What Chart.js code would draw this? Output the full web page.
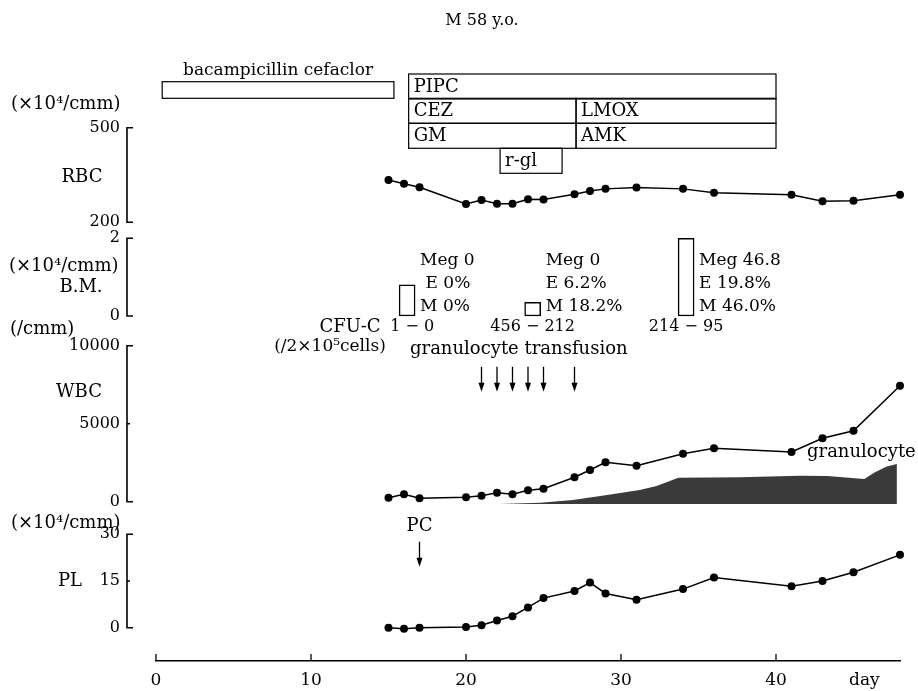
<!DOCTYPE html>
<html><head><meta charset="utf-8">
<script src="https://cdn.jsdelivr.net/npm/chart.js@4.4.1/dist/chart.umd.min.js"></script>
<style>html,body{margin:0;padding:0;background:#fff}</style>
</head><body>
<canvas id="c" width="918" height="691"></canvas>
<script>
// ---------------- data ----------------
const days = [15,16,17,20,21,22,23,24,25,27,28,29,31,34,36,41,43,45,48];
const rbc  = [334,322,311,258,271,259,259,273,272,289,299,306,310,306,294,287,267,268,287];
const wbc  = [256,474,218,280,385,577,474,730,833,1564,2032,2525,2308,3077,3423,3186,4064,4551,7436];
const pl   = [0,-0.3,0,0.2,0.8,2.3,3.7,6.5,9.5,11.8,14.5,11,9,12.4,16.1,13.3,15,17.8,23.4];
const granDays = [22.15,24.8,26.9,29.1,31.2,32.3,33.7,37.7,41.5,43.3,45.7,46.3,47.1,47.8];
const granVals = [-150,-64,110,430,750,1005,1540,1560,1670,1650,1455,1840,2245,2415];
const granBase = -150;
const bmDays = [16.2,24.3,34.2];
const bmVals = [0.8,0.35,2.0];
const bmMeg = ['Meg 0','Meg 0','Meg 46.8'];
const bmE   = [' E 0%','E 6.2%','E 19.8%'];
const bmM   = ['M 0%','M 18.2%','M 46.0%'];
const cfuC  = ['1 − 0','456 − 212','214 − 95'];
const transfusionDays = [21,22,23,24,25,27];
const pcDays = [17];
const drugNames = ['bacampicillin cefaclor','PIPC','CEZ','LMOX','GM','AMK','r-gl'];
const drugStart = [0.4,16.3,16.3,27.1,16.3,27.1,22.2];
const drugEnd   = [15.35,40,27.1,40,27.1,40,26.2];
const drugRow   = [-1,0,1,1,2,2,3];
const xTicks = [0,10,20,30,40];
const dayLabelPos = 45.7;
const rbcTicks = [200,500];
const bmTicks  = [0,2];
const wbcTicks = [0,5000,10000];
const plTicks  = [0,15,30];

// ---------------- layout / style ----------------
const F = 'DejaVu Serif';
const CT = 20, CB = 661;
const BX = 127;
const panels = [
  {id:'yRBC', ticks:rbcTicks, vTop:500,   pTop:127.7, vBot:200, pBot:222.3},
  {id:'yBM',  ticks:bmTicks,  vTop:2,     pTop:238.3, vBot:0,   pBot:316},
  {id:'yWBC', ticks:wbcTicks, vTop:10000, pTop:345.7, vBot:0,   pBot:501.7},
  {id:'yPL',  ticks:plTicks,  vTop:30,    pTop:534.3, vBot:0,   pBot:627.7}
];
const ROW_TOP = [74, 98.3, 123.3, 148.3], ROW_H = 25;

function yScale(p){
  const s = (p.vTop - p.vBot) / (p.pBot - p.pTop);
  return {
    type:'linear', position:'left', bounds:'data',
    min: p.vBot - (CB - p.pBot) * s,
    max: p.vTop + (p.pTop - CT) * s,
    grid:{display:false, drawTicks:false}, border:{display:false},
    ticks:{font:{family:F, size:16}, color:'#000', padding:36, autoSkip:false, callback:v => String(v)},
    afterBuildTicks: sc => { sc.ticks = p.ticks.map(v => ({value:v})); },
    afterFit: sc => { sc.width = 0; sc.paddingTop = 0; sc.paddingBottom = 0; }
  };
}
const pts = (xs, ys) => xs.map((d,i) => ({x:d, y:ys[i]}));
const lineStyle = {borderColor:'#000', borderWidth:1.5, pointRadius:4, pointBackgroundColor:'#000',
  pointBorderColor:'#000', pointBorderWidth:0, tension:0, fill:false, clip:false};

function txt(ctx, s, x, y, size, align){
  ctx.font = size + 'px "' + F + '"';
  ctx.textAlign = align || 'left';
  ctx.textBaseline = 'middle';
  ctx.fillText(s, x, y);
}
function arrow(ctx, x, y1, y2){
  ctx.beginPath(); ctx.moveTo(x, y1); ctx.lineTo(x, y2 - 6); ctx.stroke();
  ctx.beginPath(); ctx.moveTo(x - 3, y2 - 9); ctx.lineTo(x + 3, y2 - 9); ctx.lineTo(x, y2); ctx.closePath(); ctx.fill();
}

const widenY = {
  id:'widenY',
  afterLayout(chart){
    for (const p of panels){ const sc = chart.scales[p.id]; sc.left = 0; sc.width = sc.right; }
  }
};

const annot = {
  id:'annot',
  afterDraw(chart){
    const ctx = chart.ctx, xs = chart.scales.x;
    ctx.save();
    ctx.strokeStyle = '#000'; ctx.fillStyle = '#000';
    // y brackets
    ctx.lineWidth = 1.6;
    for (const p of panels){
      const sc = chart.scales[p.id];
      const vals = sc.ticks.map(t => t.value);
      const hi = Math.max(...vals), lo = Math.min(...vals);
      const yT = sc.getPixelForValue(hi), yB = sc.getPixelForValue(lo);
      ctx.beginPath();
      ctx.moveTo(BX + 6, yT); ctx.lineTo(BX, yT); ctx.lineTo(BX, yB); ctx.lineTo(BX + 6, yB);
      for (const v of vals){ if (v !== hi && v !== lo){ const y = sc.getPixelForValue(v); ctx.moveTo(BX, y); ctx.lineTo(BX + 3, y); } }
      ctx.stroke();
    }
    // x tick marks (upward)
    ctx.lineWidth = 1.3;
    for (const t of xs.ticks){
      if (!xTicks.includes(t.value)) continue;
      const x = xs.getPixelForValue(t.value);
      ctx.beginPath(); ctx.moveTo(x, CB); ctx.lineTo(x, CB - 7); ctx.stroke();
    }
    // drug boxes
    ctx.lineWidth = 1.2;
    drugNames.forEach((n, i) => {
      const x1 = xs.getPixelForValue(drugStart[i]), x2 = xs.getPixelForValue(drugEnd[i]);
      if (drugRow[i] < 0){
        ctx.strokeRect(x1, 81.7, x2 - x1, 16.6);
        txt(ctx, n, (x1 + x2) / 2, 71, 17, 'center');
      } else {
        const top = ROW_TOP[drugRow[i]];
        ctx.strokeRect(x1, top, x2 - x1, ROW_H);
        txt(ctx, n, x1 + 5, top + ROW_H / 2 + 1, 18);
      }
    });
    // BM annotations
    bmDays.forEach((d, i) => {
      const x = xs.getPixelForValue(d);
      txt(ctx, bmMeg[i], x + 13, 261, 17);
      txt(ctx, bmE[i], x + 13, 284, 17);
      txt(ctx, bmM[i], x + 13, 307, 17);
      txt(ctx, cfuC[i], x + (i === 0 ? 5 : 0), 327, 16, 'center');
    });
    // arrows
    ctx.lineWidth = 1.3;
    transfusionDays.forEach(d => arrow(ctx, xs.getPixelForValue(d), 366.7, 391.7));
    pcDays.forEach(d => { const x = xs.getPixelForValue(d); arrow(ctx, x, 541.7, 566.7); txt(ctx, 'PC', x, 526, 18, 'center'); });
    // texts
    txt(ctx, 'M 58 y.o.', 482, 21, 16, 'center');
    txt(ctx, '(×10⁴/cmm)', 11, 104, 18);
    txt(ctx, 'RBC', 82, 177.5, 18, 'center');
    txt(ctx, '(×10⁴/cmm)', 9, 266, 18);
    txt(ctx, 'B.M.', 81, 287, 18, 'center');
    txt(ctx, '(/cmm)', 10, 329, 18);
    txt(ctx, 'WBC', 79, 392, 18, 'center');
    txt(ctx, '(×10⁴/cmm)', 11, 523, 18);
    txt(ctx, 'PL', 70, 581, 18, 'center');
    txt(ctx, 'CFU-C', 350, 327, 18, 'center');
    txt(ctx, '(/2×10⁵cells)', 330, 347, 17, 'center');
    txt(ctx, 'granulocyte transfusion', 410, 349, 18);
    txt(ctx, 'granulocyte', 807, 452, 18);
    ctx.restore();
  }
};

new Chart(document.getElementById('c'), {
  type:'line',
  data:{ datasets:[
    Object.assign({label:'RBC', data:pts(days, rbc), yAxisID:'yRBC'}, lineStyle),
    Object.assign({label:'WBC', data:pts(days, wbc), yAxisID:'yWBC'}, lineStyle),
    Object.assign({label:'PL',  data:pts(days, pl),  yAxisID:'yPL'}, lineStyle),
    {type:'bar', label:'B.M.', data:pts(bmDays, bmVals), yAxisID:'yBM', barThickness:16, grouped:false,
     backgroundColor:'#fff', borderColor:'#000', borderWidth:1.5, borderSkipped:false},
    {label:'granulocyte', data:pts(granDays, granVals), yAxisID:'yWBC', borderWidth:0, pointRadius:0,
     fill:{value:granBase}, backgroundColor:'#3a3a3a', tension:0, clip:false}
  ]},
  options:{
    responsive:false, animation:false, events:[],
    layout:{padding:{left:156, right:18, top:CT, bottom:0}},
    plugins:{legend:{display:false}, tooltip:{enabled:false}, title:{display:false}},
    scales:{
      x:{type:'linear', min:0, max:48, offset:false, bounds:'data',
         grid:{display:false, drawTicks:false}, border:{display:true, color:'#000', width:1.5},
         ticks:{font:{family:F, size:17}, color:'#000', padding:9, autoSkip:false, maxRotation:0,
                callback:v => v === dayLabelPos ? 'day' : String(v)},
         afterBuildTicks: sc => { sc.ticks = xTicks.map(v => ({value:v})).concat([{value:dayLabelPos}]); },
         afterFit: sc => { sc.height = 30; sc.paddingLeft = 0; sc.paddingRight = 0; }},
      yRBC: yScale(panels[0]),
      yBM:  yScale(panels[1]),
      yWBC: yScale(panels[2]),
      yPL:  yScale(panels[3])
    }
  },
  plugins:[widenY, annot]
});
</script>
</body></html>
